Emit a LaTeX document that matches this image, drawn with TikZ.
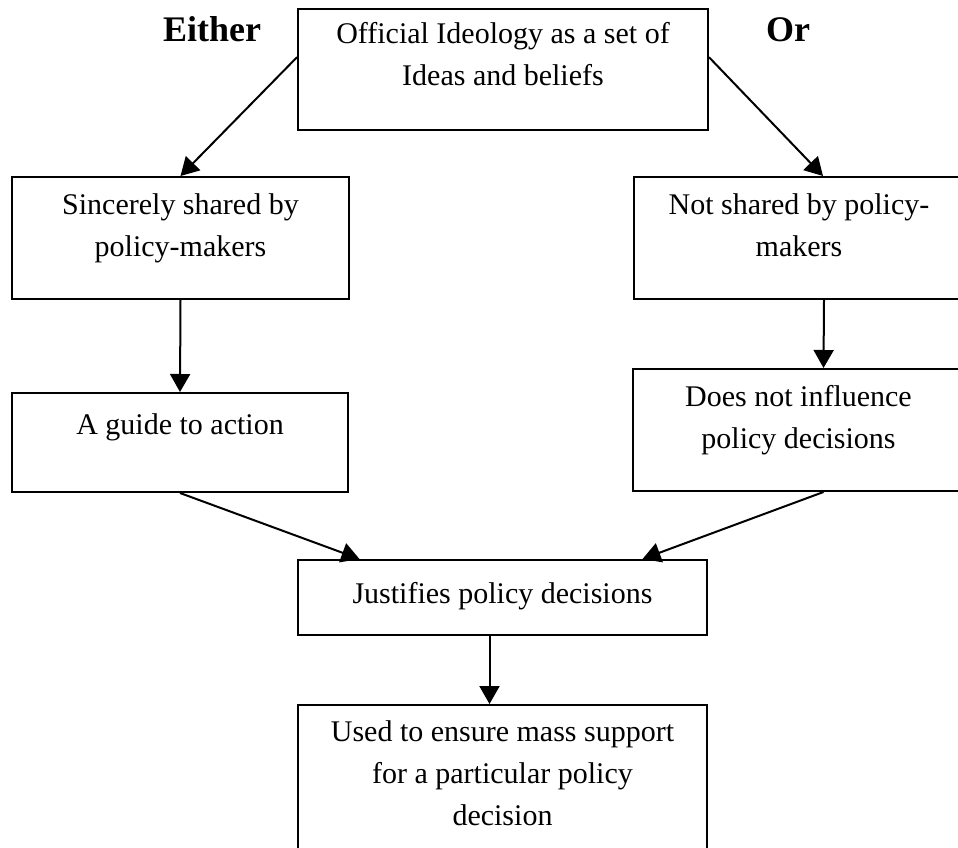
\documentclass[tikz,border=0pt]{standalone}
\usepackage{fontspec}
\setmainfont{Liberation Serif}
\usepackage{tikz}
\usetikzlibrary{
  positioning, calc, arrows.meta
}
\tikzset{
	flowbox/.style={
			draw=black,
			line width=2pt,
			inner sep=0pt,
			anchor=north west,
			font=\fontsize{30}{42}\selectfont
		},
	choicetext/.style={
			anchor=base,
			font=\fontsize{36}{40}\selectfont\bfseries
		}
}
\tikzset{
	flowarrow/.style={
			line width=2pt,
			-{Triangle[length=18pt,width=20pt]}
		}
}
\newcommand{\boxlines}[4][37pt]{\parbox[c][#3][t]{#2}{\centering\rule{0pt}{#1}#4}}

\begin{document}
\begin{tikzpicture}[x=1pt,y=-1pt]

              \useasboundingbox (0,0) rectangle (958,848);
              \clip (0,0) rectangle (958,848);

              \node[flowbox] (ideology) at (297,8) {\boxlines[35pt]{410pt}{121pt}{Official Ideology as a set of\\Ideas and beliefs}};
              \node[flowbox] (shared) at (11,176) {\boxlines{337pt}{122pt}{Sincerely shared by\\policy-makers}};
              \node[flowbox] (notshared) at (633,176) {\boxlines{330pt}{122pt}{Not shared by policy-\\makers}};
              \node[flowbox] (guide) at (11,392) {\boxlines[41pt]{336pt}{99pt}{A guide to action}};
              \node[flowbox] (noinfl) at (632,368) {\boxlines{331pt}{122pt}{Does not influence\\policy decisions}};
              \node[flowbox] (justify) at (297,559) {\boxlines[43pt]{409pt}{75pt}{Justifies policy decisions}};
              \node[flowbox] (mass) at (297,704) {\boxlines[36pt]{409pt}{150pt}{Used to ensure mass support\\for a particular policy\\decision}};

              \node[choicetext] (either) at (212,42) {Either};
              \node[choicetext] (or) at (788,42) {Or};

              \draw[flowarrow] ($(ideology.north west)!0.4!(ideology.south west)$) -- (shared.north);
              \draw[flowarrow] ($(ideology.north east)!0.4!(ideology.south east)$) -- ([xshift=24pt]notshared.north);
              \draw[flowarrow] (shared.south) -- (guide.north);
              \draw[flowarrow] ([xshift=25pt]notshared.south) -- ([xshift=25pt]noinfl.north);
              \draw[flowarrow] (guide.south) -- ([xshift=-143pt]justify.north);
              \draw[flowarrow] ([xshift=25pt]noinfl.south) -- ([xshift=140pt]justify.north);
              \draw[flowarrow] ([xshift=-13pt]justify.south) -- ([xshift=-13pt]mass.north);
            \end{tikzpicture}
\end{document}
